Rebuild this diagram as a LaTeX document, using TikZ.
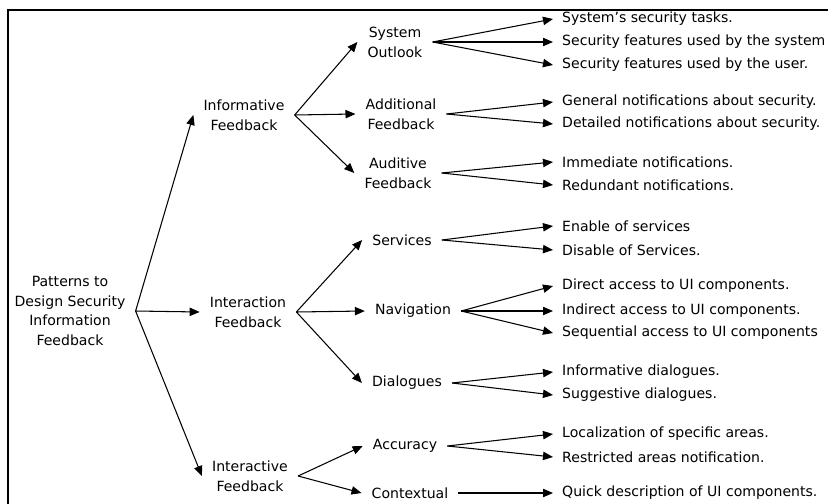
\documentclass[tikz,border=0pt]{standalone}
\usepackage{fontspec}
\setmainfont{DejaVu Sans}
\usetikzlibrary{positioning, arrows.meta}
\tikzset{
    block/.style={
        align = center,
        inner xsep = 0.3cm,
        font = \fontsize{12}{16.9}\selectfont
    },
    leaf/.style={
        anchor = west,
        inner xsep = 0.27cm,
        font = \fontsize{12}{16.9}\selectfont
    },
    line/.style = {-{Triangle[length=3mm, width=2.5mm]}, line width=0.9pt}
}

\begin{document}
\begin{tikzpicture}[x=0.03cm, y=-0.03cm]

    \useasboundingbox (0,0) rectangle (828,504);
    \clip (0,0) rectangle (828,504);
    \draw[line width=1.6pt] (8,530) |- (850,10);

    % root and first level
    \node[block] (root) at (70,311) {Patterns to\\Design Security\\Information\\Feedback};
    \node[block] (info) at (244,115) {Informative\\Feedback};
    \node[block] (inter) at (248,312) {Interaction\\Feedback};
    \node[block] (interac) at (250,476) {Interactive\\Feedback};

    % second level
    \node[block] (sysout) at (395,42) {System\\Outlook};
    \node[block] (addfb) at (401,114) {Additional\\Feedback};
    \node[block] (audfb) at (398,173) {Auditive\\Feedback};
    \node[block] (serv) at (402,240) {Services};
    \node[block] (navi) at (413,311) {Navigation};
    \node[block] (dial) at (407,383) {Dialogues};
    \node[block] (accu) at (405,446) {Accuracy};
    \node[block] (ctx) at (410,493) {Contextual};

    % leaves
    \node[leaf] (sys-1) at (553,19) {System's security tasks.};
    \node[leaf] (sys-2) at (553,42) {Security features used by the system};
    \node[leaf] (sys-3) at (553,65) {Security features used by the user.};
    \node[leaf] (add-1) at (553,102) {General notifications about security.};
    \node[leaf] (add-2) at (553,124) {Detailed notifications about security.};
    \node[leaf] (aud-1) at (553,162) {Immediate notifications.};
    \node[leaf] (aud-2) at (553,185) {Redundant notifications.};
    \node[leaf] (serv-1) at (553,226) {Enable of services};
    \node[leaf] (serv-2) at (553,250) {Disable of Services.};
    \node[leaf] (navi-1) at (553,286) {Direct access to UI components.};
    \node[leaf] (navi-2) at (553,311) {Indirect access to UI components.};
    \node[leaf] (navi-3) at (553,333) {Sequential access to UI components};
    \node[leaf] (dial-1) at (553,372) {Informative dialogues.};
    \node[leaf] (dial-2) at (553,395) {Suggestive dialogues.};
    \node[leaf] (accu-1) at (553,434) {Localization of specific areas.};
    \node[leaf] (accu-2) at (553,457) {Restricted areas notification.};
    \node[leaf] (ctx-1) at (553,493) {Quick description of UI components.};

    \draw[line] (root.east) -- (info.west);
    \draw[line] (root.east) -- (inter.west);
    \draw[line] (root.east) -- (interac.west);

    \draw[line] (info.east) -- (sysout.west);
    \draw[line] (info.east) -- (addfb.west);
    \draw[line] (info.east) -- (audfb.west);
    \draw[line] (inter.east) -- (serv.west);
    \draw[line] (inter.east) -- (navi.west);
    \draw[line] (inter.east) -- (dial.west);
    \draw[line] (interac.east) -- (accu.west);
    \draw[line] (interac.east) -- (ctx.west);

    \draw[line] (sysout.east) -- (sys-1.west);
    \draw[line] (sysout.east) -- (sys-2.west);
    \draw[line] (sysout.east) -- (sys-3.west);
    \draw[line] (addfb.east) -- (add-1.west);
    \draw[line] (addfb.east) -- (add-2.west);
    \draw[line] (audfb.east) -- (aud-1.west);
    \draw[line] (audfb.east) -- (aud-2.west);
    \draw[line] (serv.east) -- (serv-1.west);
    \draw[line] (serv.east) -- (serv-2.west);
    \draw[line] (navi.east) -- (navi-1.west);
    \draw[line] (navi.east) -- (navi-2.west);
    \draw[line] (navi.east) -- (navi-3.west);
    \draw[line] (dial.east) -- (dial-1.west);
    \draw[line] (dial.east) -- (dial-2.west);
    \draw[line] (accu.east) -- (accu-1.west);
    \draw[line] (accu.east) -- (accu-2.west);
    \draw[line] (ctx.east) -- (ctx-1.west);

\end{tikzpicture}
\end{document}
